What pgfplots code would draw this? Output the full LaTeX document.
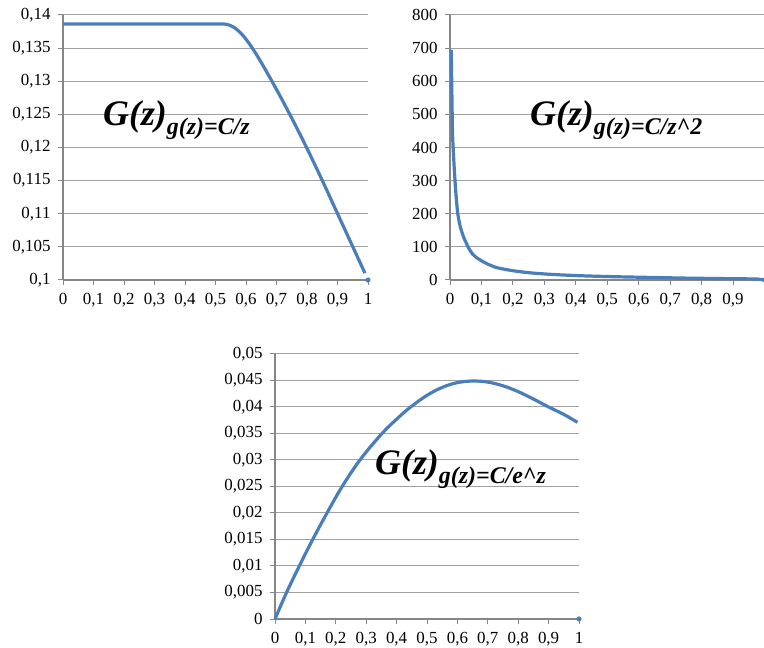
\documentclass[border=0pt]{standalone}
\usepackage{fontspec}
\setmainfont{Liberation Serif}
\usepackage{pgfplots}
\pgfplotsset{compat=1.18}

\definecolor{excelblue}{RGB}{74,126,187}
\definecolor{gridgray}{RGB}{160,160,160}
\definecolor{axisgray}{RGB}{134,134,134}

\pgfplotsset{
  panel/.style={
    scale only axis,
    height=265bp,
    anchor=south west,
    clip=false,
    axis lines*=left,
    axis line style={axisgray, line width=1.3bp},
    ymajorgrids,
    grid style={gridgray, line width=1bp},
    tick align=outside,
    major tick length=5bp,
    tick style={axisgray, line width=1bp},
    tick label style={font=\fontsize{17}{17}\selectfont},
    xticklabel style={yshift=-5bp},
    yticklabel style={xshift=-4bp},
    scaled y ticks=false,
    scaled x ticks=false,
    /pgf/number format/use comma,
    /pgf/number format/fixed,
    /pgf/number format/precision=3,
    /pgf/number format/assume math mode=true,
  },
  curve/.style={excelblue, line width=3.2bp, smooth, tension=0.6},
  enddot/.style={only marks, mark=*, mark size=2.3bp, excelblue},
}

\newcommand{\Glabel}[1]{{\fontsize{36}{36}\selectfont\bfseries\itshape G(z)}\raisebox{-9bp}{\fontsize{24}{24}\selectfont\bfseries\itshape #1}}

\begin{document}
\begin{tikzpicture}
\useasboundingbox (0,0) rectangle (764bp,648bp);

% g(z) = C/z
\begin{axis}[panel, at={(63bp,368bp)}, width=305bp,
    xmin=0, xmax=1, ymin=0.1, ymax=0.14,
    xtick={0,0.1,...,1}, ytick={0.1,0.105,...,0.1401}]
\addplot[curve] coordinates {
  (0,0.13865) (0.1,0.13865) (0.2,0.13865) (0.3,0.13865) (0.4,0.13865)
  (0.5,0.13865) (0.52,0.13865) (0.54,0.13855) (0.56,0.13815) (0.58,0.1374)
  (0.60,0.13635) (0.62,0.13505) (0.65,0.13283) (0.70,0.12876) (0.75,0.12443)
  (0.80,0.11986) (0.85,0.11503) (0.90,0.11003) (0.95,0.10503) (0.99,0.10103)
};
\addplot[enddot] coordinates {(1,0.1)};
\end{axis}

% g(z) = C/z^2
\begin{axis}[panel, at={(450bp,368bp)}, width=314.5bp,
    xmin=0, xmax=1, ymin=0, ymax=800,
    xtick={0,0.1,...,0.91}, ytick={0,100,...,800}]
\addplot[curve, tension=0.4] coordinates {
  (0.004,695) (0.006,560) (0.008,444) (0.011,380) (0.014,330) (0.018,270)
  (0.024,205) (0.03,172) (0.035,153) (0.043,130) (0.051,113) (0.06,95)
  (0.072,78) (0.085,67) (0.1,58) (0.12,48) (0.146,38) (0.17,33) (0.2,28)
  (0.25,22) (0.305,18) (0.35,15.5) (0.41,13) (0.46,11.5) (0.517,10)
  (0.57,9) (0.623,8) (0.68,7) (0.73,6) (0.78,5.3) (0.835,4.6) (0.89,4)
  (0.94,3.5) (0.975,3) (0.995,1)
};
\addplot[enddot] coordinates {(1,0)};
\end{axis}

% g(z) = C/e^z
\begin{axis}[panel, at={(275bp,29bp)}, width=304bp,
    xmin=0, xmax=1, ymin=0, ymax=0.05,
    xtick={0,0.1,...,1}, ytick={0,0.005,...,0.0501}]
\addplot[curve] coordinates {
  (0,0) (0.038,0.005) (0.08,0.0100) (0.124,0.0150) (0.172,0.0201) (0.222,0.0251)
  (0.282,0.0302) (0.352,0.0350) (0.40,0.0377) (0.444,0.0399) (0.5,0.0422)
  (0.55,0.0437) (0.6,0.0446) (0.65,0.0449) (0.7,0.0447) (0.75,0.0440)
  (0.8,0.0429) (0.85,0.0415) (0.9,0.0400) (0.95,0.0386) (0.995,0.0371)
};
\addplot[enddot] coordinates {(1,0)};
\end{axis}

\node[anchor=base west, inner sep=0] at (103bp,522bp) {\Glabel{g(z)=C/z}};
\node[anchor=base west, inner sep=0] at (530bp,522bp) {\Glabel{g(z)=C/z\textasciicircum 2}};
\node[anchor=base west, inner sep=0] at (375bp,173bp) {\Glabel{g(z)=C/e\textasciicircum z}};
\end{tikzpicture}
\end{document}
